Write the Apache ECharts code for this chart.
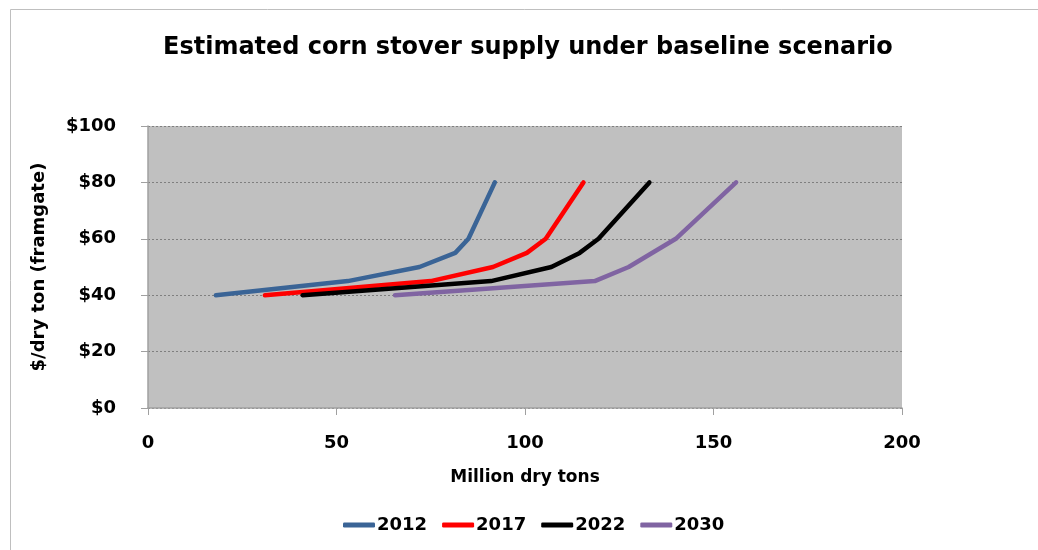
<!DOCTYPE html>
<html>
<head>
<meta charset="utf-8">
<script src="https://cdn.jsdelivr.net/npm/echarts@6/dist/echarts.min.js"></script>
<style>
  html, body { margin: 0; padding: 0; background: #ffffff; }
  #chart { width: 1038px; height: 550px; }
</style>
</head>
<body>
<div id="chart"></div>
<script>
// Corn stover supply curves: [million dry tons, $/dry ton]
const years = ['2012', '2017', '2022', '2030'];
const supply2012 = [[18, 40], [53, 45], [72, 50], [81.5, 55], [85, 60], [92, 80]];
const supply2017 = [[31, 40], [75, 45], [91.5, 50], [100.5, 55], [105.5, 60], [115.5, 80]];
const supply2022 = [[41, 40], [91, 45], [107, 50], [114.5, 55], [119.5, 60], [133, 80]];
const supply2030 = [[65.5, 40], [118.5, 45], [127.5, 50], [140, 60], [156, 80]];
const seriesColors = ['#3A6496', '#FF0000', '#000000', '#8064A2'];

const FONT = 'DejaVu Sans';
const chart = echarts.init(document.getElementById('chart'), null, { renderer: 'canvas' });

const curves = [supply2012, supply2017, supply2022, supply2030];

chart.setOption({
  animation: false,
  backgroundColor: '#ffffff',
  title: {
    text: 'Estimated corn stover supply under baseline scenario',
    left: 158,
    top: 31,
    textStyle: { fontFamily: FONT, fontWeight: 'bold', fontSize: 24, color: '#000' }
  },
  graphic: [{
    type: 'rect',
    shape: { x: 10.5, y: 9.5, width: 1040, height: 560 },
    style: { fill: 'none', stroke: '#BFBFBF', lineWidth: 1 },
    silent: true,
    z: -1
  }],
  legend: {
    data: years.map((y, i) => ({
      name: y,
      icon: 'roundRect',
      itemStyle: { color: seriesColors[i] }
    })),
    bottom: 11,
    left: 338,
    itemWidth: 32,
    itemHeight: 5,
    itemGap: 15,
    textStyle: { fontFamily: FONT, fontWeight: 'bold', fontSize: 18, color: '#000', padding: [0, 0, 0, -3] }
  },
  grid: {
    left: 148, right: 136, top: 126, bottom: 142,
    show: true, backgroundColor: '#C0C0C0', borderWidth: 0
  },
  xAxis: {
    type: 'value',
    min: 0, max: 200, interval: 50,
    name: 'Million dry tons',
    nameLocation: 'middle',
    nameGap: 61,
    nameTextStyle: { fontFamily: FONT, fontWeight: 'bold', fontSize: 17, color: '#000' },
    axisLine: { show: true, lineStyle: { color: '#A0A0A0', width: 1.5 } },
    axisTick: { show: true, length: 7, lineStyle: { color: '#A0A0A0' } },
    axisLabel: { margin: 26, fontFamily: FONT, fontWeight: 'bold', fontSize: 18, color: '#000' },
    splitLine: { show: false }
  },
  yAxis: {
    type: 'value',
    min: 0, max: 100, interval: 20,
    name: '$/dry ton (framgate)',
    nameLocation: 'middle',
    nameGap: 100,
    nameTextStyle: { fontFamily: FONT, fontWeight: 'bold', fontSize: 18, color: '#000' },
    axisLine: { show: true, lineStyle: { color: '#A0A0A0', width: 1.5 } },
    axisTick: { show: true, length: 7, lineStyle: { color: '#A0A0A0' } },
    axisLabel: {
      margin: 32, fontFamily: FONT, fontWeight: 'bold', fontSize: 18, color: '#000',
      formatter: v => '$' + v
    },
    splitLine: { show: true, lineStyle: { color: '#7F7F7F', type: [2, 2], width: 1 } }
  },
  series: curves.map((d, i) => ({
    name: years[i],
    type: 'line',
    data: d,
    showSymbol: false,
    symbol: 'none',
    color: seriesColors[i],
    lineStyle: { width: 4.5, color: seriesColors[i], cap: 'round', join: 'round' }
  }))
});
</script>
</body>
</html>
